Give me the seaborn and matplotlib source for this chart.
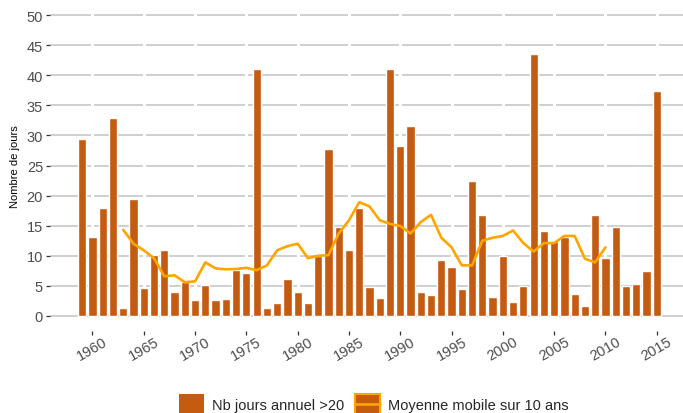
import matplotlib
matplotlib.use("Agg")
import matplotlib.pyplot as plt
from matplotlib.patches import Patch
from matplotlib.lines import Line2D
from matplotlib.legend_handler import HandlerTuple, HandlerLine2D
import seaborn as sns
import pandas as pd

# Annual number of days above 20, 1959-2015
years = list(range(1959, 2016))
days = [29.4, 13.2, 18.0, 32.9, 1.3, 19.4, 4.7, 10.1, 11.0, 4.0,
        5.7, 2.6, 5.1, 2.7, 2.8, 7.7, 7.1, 41.0, 1.3, 2.1,
        6.1, 4.0, 2.2, 10.0, 27.7, 14.8, 11.0, 17.9, 4.8, 3.0,
        41.0, 28.2, 31.5, 3.9, 3.4, 9.3, 8.2, 4.5, 22.4, 16.8,
        3.2, 10.0, 2.4, 4.9, 43.5, 14.1, 12.4, 13.1, 3.6, 1.7,
        16.8, 9.6, 14.8, 4.9, 5.3, 7.5, 37.4]

# 10-year moving average
ma_years = list(range(1963, 2011))
ma_values = [14.3, 12.0, 10.9, 9.6, 6.6, 6.75, 5.6, 5.75, 8.9, 7.9,
             7.75, 7.8, 8.0, 7.6, 8.4, 10.9, 11.6, 12.0, 9.6, 10.0,
             10.1, 13.7, 15.9, 18.9, 18.2, 15.9, 15.3, 14.95, 13.7, 15.6,
             16.8, 13.0, 11.4, 8.4, 8.4, 12.5, 13.0, 13.3, 14.2, 12.1,
             10.7, 12.1, 12.1, 13.3, 13.3, 9.5, 8.9, 11.4]

x_ticks = [1960, 1965, 1970, 1975, 1980, 1985, 1990, 1995, 2000, 2005, 2010, 2015]
y_ticks = [0, 5, 10, 15, 20, 25, 30, 35, 40, 45, 50]

bar_label = "Nb jours annuel >20"
line_label = "Moyenne mobile sur 10 ans"

bar_color = "#c55a11"
line_color = "#ffa500"
text_grey = "#4d4d4d"


class CenteredLine(HandlerLine2D):
    """Legend line drawn through the vertical middle of the key box."""

    def create_artists(self, legend, orig_handle, xdescent, ydescent,
                       width, height, fontsize, trans):
        artists = super().create_artists(legend, orig_handle, xdescent,
                                         ydescent, width, height, fontsize,
                                         trans)
        y = height / 2 - ydescent
        for a in artists:
            if isinstance(a, Line2D):
                a.set_ydata([y] * len(a.get_xdata()))
        return artists


sns.set_theme(style="white")
plt.rcParams["font.family"] = ["Liberation Sans", "DejaVu Sans"]

bars = pd.DataFrame({"year": years, "days": days})
ma = pd.DataFrame({"year": ma_years, "value": ma_values})

fig = plt.figure(figsize=(6.83, 4.14), dpi=100)
ax = fig.add_axes([50 / 683, 82 / 414, 633 / 683, 331 / 414])

sns.barplot(data=bars, x="year", y="days", native_scale=True, width=0.8,
            color=bar_color, saturation=1, ax=ax, zorder=3)
sns.lineplot(data=ma, x="year", y="value", color=line_color, lw=1.9,
             ax=ax, zorder=4)

ax.set_xlim(1955.86, 2017.56)
ax.set_ylim(-2.5, 52.5)
ax.set_xticks(x_ticks)
ax.set_yticks(y_ticks)

# grey horizontal grid, broken by white vertical lines at the year ticks
ax.yaxis.grid(True, color="#c2c2c2", lw=1.1)
ax.xaxis.grid(False)
ax.set_axisbelow(True)
ax.vlines(x_ticks, -2.5, 52.5, colors="white", lw=2.2, zorder=1)

for s in ax.spines.values():
    s.set_visible(False)

ax.tick_params(axis="y", which="major", length=3, width=0.9, color="#333333",
               labelsize=10.5, labelcolor=text_grey, pad=2, left=True)
ax.tick_params(axis="x", which="major", length=3, width=0.9, color="#333333",
               labelsize=10.5, labelcolor=text_grey, pad=-1, bottom=True)
for lbl in ax.get_xticklabels():
    lbl.set_rotation(30)
    lbl.set_ha("center")
    lbl.set_va("top")

ax.set_xlabel("")
ax.set_ylabel("Nombre de jours", fontsize=8, color="black", labelpad=5)

handles = [Patch(facecolor=bar_color, edgecolor="none"),
           (Patch(facecolor=bar_color, edgecolor=line_color, lw=1.5),
            Line2D([], [], color=line_color, lw=1.9))]
fig.legend(handles, [bar_label, line_label], loc="center",
           bbox_to_anchor=(374 / 683, 9 / 414), ncol=2, frameon=False,
           fontsize=10.5, handlelength=1.7, handleheight=1.7,
           handletextpad=0.6, columnspacing=0.7,
           handler_map={tuple: HandlerTuple(ndivide=1, pad=0),
                        Line2D: CenteredLine()})

fig.savefig("out.png", dpi=100)
